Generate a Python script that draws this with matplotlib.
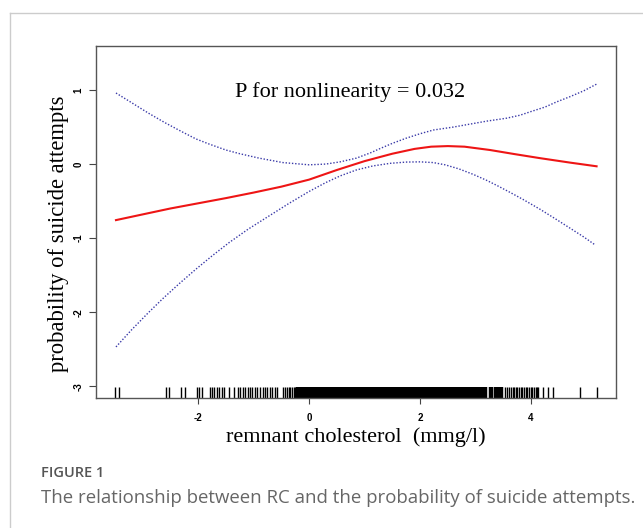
import matplotlib
matplotlib.use("Agg")
import numpy as np
from matplotlib import pyplot as plt
from matplotlib.lines import Line2D
from matplotlib import transforms

# fitted curve and 95% CI
rc_x = [-3.48, -3.0, -2.5, -2.0, -1.5, -1.0, -0.5, 0.0, 0.5, 1.0, 1.5, 1.9, 2.2, 2.5,
        2.8, 3.26, 3.7, 4.16, 4.7, 5.18]
fit_y = [-0.757, -0.68, -0.60, -0.53, -0.46, -0.385, -0.305, -0.21, -0.08, 0.04, 0.14,
         0.205, 0.235, 0.243, 0.235, 0.19, 0.135, 0.08, 0.02, -0.03]

up_x = [-3.48, -3.2, -2.9, -2.6, -2.3, -2.04, -1.8, -1.5, -1.25, -0.9, -0.47, 0.0, 0.3,
        0.56, 0.85, 1.1, 1.28, 1.5, 1.75, 2.0, 2.24, 2.6, 2.9, 3.2, 3.56, 3.8, 4.0, 4.25,
        4.46, 4.7, 4.95, 5.18]
up_y = [0.96, 0.83, 0.69, 0.56, 0.44, 0.34, 0.27, 0.19, 0.14, 0.08, 0.02, -0.01, 0.0,
        0.03, 0.08, 0.15, 0.21, 0.28, 0.35, 0.41, 0.46, 0.50, 0.54, 0.58, 0.62, 0.66,
        0.71, 0.77, 0.84, 0.91, 0.99, 1.08]

lo_x = [-3.48, -3.2, -2.9, -2.64, -2.34, -2.04, -1.74, -1.44, -1.1, -0.72, -0.36, 0.0,
        0.3, 0.56, 0.85, 1.15, 1.46, 1.75, 2.0, 2.24, 2.45, 2.7, 2.96, 3.2, 3.4, 3.64,
        3.86, 4.16, 4.46, 4.7, 4.95, 5.15]
lo_y = [-2.47, -2.24, -2.01, -1.82, -1.615, -1.42, -1.235, -1.06, -0.88, -0.70, -0.53,
        -0.37, -0.25, -0.16, -0.08, -0.025, 0.01, 0.027, 0.03, 0.02, -0.01, -0.065,
        -0.14, -0.22, -0.295, -0.39, -0.48, -0.61, -0.75, -0.865, -0.985, -1.09]

# observed RC values (rug)
rug_sparse = [-3.50, -3.42, -2.58, -2.53, -2.31, -2.23, -2.02, -1.98, -1.93,
              -1.78, -1.75, -1.71, -1.66, -1.62, -1.57, -1.53, -1.44, -1.36,
              -1.29, -1.24, -1.20, -1.15, -1.11, -1.06, -1.02, -0.98, -0.93,
              -0.88, -0.83, -0.79, -0.75, -0.70, -0.66, -0.61, -0.57, -0.47,
              -0.43, -0.40, -0.37, -0.34, -0.31, -0.28, -0.25,
              3.53, 3.56, 3.60, 3.63, 3.67, 3.70, 3.72, 3.75, 3.78, 3.81, 3.84,
              3.87, 3.90, 3.93, 3.96, 4.00, 4.02, 4.05, 4.08, 4.11, 4.13,
              4.22, 4.31, 4.40, 4.88, 5.18]
rug_dense = [-0.20, -0.15, -0.10, -0.05, 0.00, 0.05, 0.10, 0.15, 0.20, 0.25,
             0.30, 0.35, 0.40, 0.45, 0.50, 0.55, 0.60, 0.65, 0.70, 0.75,
             0.80, 0.85, 0.90, 0.95, 1.00, 1.05, 1.10, 1.15, 1.20, 1.25,
             1.30, 1.35, 1.40, 1.45, 1.50, 1.55, 1.60, 1.66, 1.70, 1.75, 1.80,
             1.85, 1.90, 1.95, 2.00, 2.05, 2.10, 2.15, 2.20, 2.25, 2.30, 2.35,
             2.40, 2.45, 2.50, 2.55, 2.60, 2.65, 2.70, 2.75, 2.80, 2.85, 2.90, 2.95,
             3.00, 3.05, 3.12, 3.17, 3.27, 3.36, 3.41, 3.46]

xticks = [-2, 0, 2, 4]
yticks = [-3, -2, -1, 0, 1]

fig = plt.figure(figsize=(6.43, 5.28), dpi=100)
ax = fig.add_axes([96 / 643, 1 - 398 / 528, 520 / 643, 352 / 528])

ax.plot(rc_x, fit_y, color="#ee1515", lw=1.5, zorder=3)
ax.plot(up_x, up_y, color="#3a3aa8", lw=1.0, ls=(0, (1, 1.3)))
ax.plot(lo_x, lo_y, color="#3a3aa8", lw=1.0, ls=(0, (1, 1.3)))

trans = transforms.blended_transform_factory(ax.transData, ax.transAxes)
ax.vlines(rug_sparse, 0, 0.03, transform=trans, color="black", lw=1.0)
ax.vlines(rug_dense, 0, 0.03, transform=trans, color="black", lw=3.2)

ax.set_xlim(-3.84, 5.53)
ax.set_ylim(-3.16, 1.595)
ax.set_xticks(xticks)
ax.set_yticks(yticks)
ax.set_xticklabels([str(t) for t in xticks], fontsize=7, family="Liberation Sans", fontweight="bold")
ax.set_yticklabels([str(t) for t in yticks], fontsize=7, family="Liberation Sans", fontweight="bold",
                   rotation=90, va="center")
ax.tick_params(axis="x", length=4, width=0.8, color="#444444", pad=7)
ax.tick_params(axis="y", length=5, width=0.8, color="#444444", pad=4)
for s in ax.spines.values():
    s.set_color("#555555")
    s.set_linewidth(1.0)

ax.text(0.73, 0.97, "P for nonlinearity = 0.032", ha="center", va="center",
        fontsize=16, family="Liberation Serif")

fig.text(356 / 643, 1 - 437 / 528, "remnant cholesterol  (mmg/l)", ha="center", va="center",
         fontsize=16, family="Liberation Serif")
fig.text(59 / 643, 1 - 234 / 528, "probability of suicide attempts", ha="center", va="center",
         rotation=90, fontsize=16.3, family="Liberation Serif")

# card border
fig.add_artist(Line2D([10 / 643, 1], [1 - 13 / 528, 1 - 13 / 528], color="#cccccc", lw=1))
fig.add_artist(Line2D([10 / 643, 10 / 643], [0, 1 - 13 / 528], color="#cccccc", lw=1))

fig.text(41 / 643, 1 - 473 / 528, "FIGURE 1", ha="left", va="center",
         fontsize=10.5, family="Open Sans", fontweight="semibold", color="#555555")
fig.text(41 / 643, 1 - 498 / 528, "The relationship between RC and the probability of suicide attempts.",
         ha="left", va="center", fontsize=13.4, family="Open Sans", color="#666666")

plt.savefig("out.png", dpi=100)
